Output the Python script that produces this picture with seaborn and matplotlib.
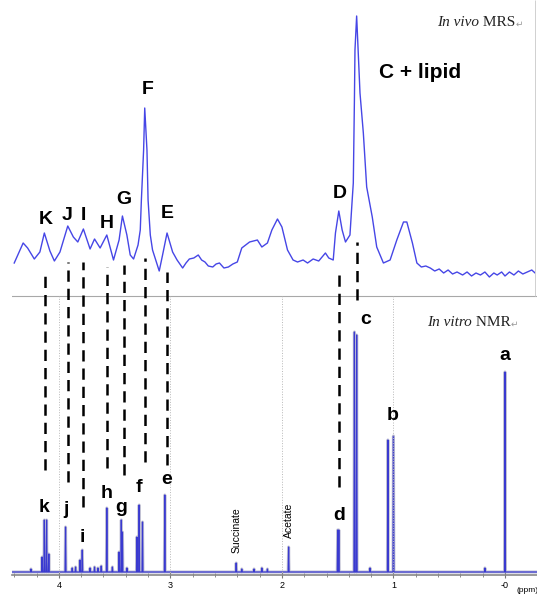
import matplotlib
matplotlib.use('Agg')

import pandas as pd
import seaborn as sns
from matplotlib import pyplot as plt

# in vivo MRS trace (ppm, height above its baseline)
vivo_ppm = [4.40, 4.36, 4.32, 4.28, 4.22, 4.17, 4.13, 4.08, 4.04, 3.99, 3.92, 3.87,
            3.83, 3.78, 3.72, 3.68, 3.63, 3.57, 3.51, 3.46, 3.43, 3.39, 3.36, 3.33,
            3.29, 3.27, 3.26, 3.24, 3.23, 3.21, 3.20, 3.18, 3.16, 3.10, 3.07, 3.03,
            2.98, 2.94, 2.89, 2.86, 2.83, 2.79, 2.75, 2.72, 2.69, 2.66, 2.62, 2.59,
            2.56, 2.52, 2.48, 2.44, 2.40, 2.36, 2.29, 2.22, 2.18, 2.13, 2.09, 2.04,
            2.00, 1.95, 1.90, 1.86, 1.81, 1.77, 1.72, 1.67, 1.61, 1.58, 1.54, 1.52,
            1.49, 1.46, 1.43, 1.39, 1.37, 1.36, 1.35, 1.345, 1.33, 1.30, 1.27, 1.24,
            1.19, 1.15, 1.09, 1.03, 0.97, 0.91, 0.88, 0.83, 0.79, 0.75, 0.71, 0.67,
            0.63, 0.59, 0.55, 0.51, 0.47, 0.43, 0.38, 0.34, 0.30, 0.26, 0.22, 0.18,
            0.14, 0.10, 0.07, 0.03, 0.00, -0.04, -0.08, -0.12, -0.16, -0.20, -0.24, -0.27]
vivo_int = [12, 22, 32, 27, 16, 23, 42, 24, 14, 23, 49, 38,
            33, 46, 26, 36, 27, 40, 15, 35, 59, 40, 20, 16,
            30, 45, 75, 125, 167, 125, 75, 40, 25, 4, 20, 42,
            23, 15, 7, 12, 16, 17, 20, 15, 13, 9, 8, 11,
            12, 7, 8, 11, 13, 27, 33, 35, 28, 32, 45, 56,
            48, 25, 15, 13, 15, 12, 16, 14, 22, 17, 15, 42,
            64, 45, 33, 40, 75, 92, 175, 225, 259, 182, 142, 88,
            58, 28, 12, 15, 35, 53, 53, 32, 12, 8, 9, 7,
            4, 6, 2, 5, 1, 3, 0, 3, -1, 2, 0, 3,
            -2, 2, 0, 3, -1, 3, 0, 4, 1, 3, 5, 2]

# in vitro NMR peaks (ppm, height)
vitro_ppm = [4.25, 4.15, 4.13, 4.11, 4.09, 3.94, 3.88, 3.85, 3.81, 3.79, 3.72, 3.68,
             3.65, 3.62, 3.57, 3.52, 3.46, 3.44, 3.43, 3.39, 3.30, 3.28, 3.25, 3.05,
             2.41, 2.36, 2.25, 2.18, 2.13, 1.94, 1.50, 1.49, 1.35, 1.33, 1.21, 1.05,
             1.00, 0.18, 0.00]
vitro_int = [3, 15, 52, 52, 18, 45, 4, 5, 12, 22, 4, 5,
             4, 6, 64, 5, 20, 52, 40, 4, 35, 67, 50, 77,
             9, 3, 3, 4, 3, 25, 42, 42, 240, 237, 4, 132,
             136, 4, 200]

top_letters = ['K', 'J', 'I', 'H', 'G', 'F', 'E', 'D']
top_letter_ppm = [4.12, 3.93, 3.78, 3.57, 3.42, 3.20, 3.03, 1.48]
top_letter_y = [356, 359, 359, 351, 375, 485, 361, 382]

low_letters = ['k', 'j', 'i', 'h', 'g', 'f', 'e', 'd', 'c', 'b', 'a']
low_letter_ppm = [4.13, 3.94, 3.79, 3.57, 3.44, 3.28, 3.03, 1.49, 1.25, 1.01, 0.0]
low_letter_y = [67, 65, 38, 82, 68, 87, 95, 59, 255, 160, 219]

# dashed links between the two spectra
link_ppm = [4.12, 3.92, 3.78, 3.57, 3.42, 3.23, 3.03, 1.49, 1.33]
link_top = [302, 313, 313, 308, 310, 317, 303, 302, 333]
link_bottom = [105, 93, 68, 107, 100, 113, 110, 88, 275]

tick_ppm = [4, 3, 2, 1, 0]
tick_labels = ['4', '3', '2', '1', '-0']

VIVO_BASE = 300
VITRO_BASE = 3
SEP_Y = 279

fig = plt.figure(figsize=(5.37, 5.98), dpi=100)
ax = fig.add_axes([12 / 537, 23 / 598, 525 / 537, 575 / 598])

# top spectrum
vivo = pd.DataFrame({'ppm': vivo_ppm, 'y': [v + VIVO_BASE for v in vivo_int]})
sns.lineplot(data=vivo, x='ppm', y='y', estimator=None, sort=False,
             color='#4646e6', lw=1.0, ax=ax)

# bottom spectrum as sharp sticks
hw = 0.004
xs, ys = [4.42], [VITRO_BASE]
for p, h in sorted(zip(vitro_ppm, vitro_int), reverse=True):
    xs += [p + hw, p, p - hw]
    ys += [VITRO_BASE, VITRO_BASE + h, VITRO_BASE]
xs.append(-0.29)
ys.append(VITRO_BASE)
vitro = pd.DataFrame({'ppm': xs, 'y': ys})
sns.lineplot(data=vitro, x='ppm', y='y', estimator=None, sort=False,
             color='#9a9ab8', lw=2.2, alpha=0.6, ax=ax)
sns.lineplot(data=vitro, x='ppm', y='y', estimator=None, sort=False,
             color='#3a3ad0', lw=0.9, ax=ax)

# separator and dotted grid in the lower panel
ax.axhline(SEP_Y, color='#a8a8a8', lw=0.8)
ax.vlines(tick_ppm[:-1], 0, SEP_Y, colors='#b8b8b8', linestyles=':', lw=0.7)
ax.vlines([-0.27], SEP_Y, 575, colors='#d0d0d0', lw=0.7)

ax.vlines(link_ppm, link_bottom, link_top, colors='black', lw=1.8,
          linestyles=[(0, (4.5, 2.8))])

for lab, p, y in zip(top_letters, top_letter_ppm, top_letter_y):
    ax.text(p, y, lab, ha='center', va='center', fontsize=14, fontweight='bold',
            family='Liberation Sans')
for lab, p, y in zip(low_letters, low_letter_ppm, low_letter_y):
    ax.text(p, y, lab, ha='center', va='center', fontsize=14, fontweight='bold',
            family='Liberation Sans')
ax.text(0.76, 502, 'C + lipid', ha='center', va='center', fontsize=15,
        fontweight='bold', family='Liberation Sans')

ax.text(2.41, 45, 'Succinate', rotation=90, ha='center', va='center',
        fontsize=7.5, family='Liberation Sans')
ax.text(1.94, 55, 'Acetate', rotation=90, ha='center', va='center',
        fontsize=7.5, family='Liberation Sans')

# panel captions
t1 = ax.text(0.61, 553, 'In vivo', style='italic', fontsize=11,
             family='Liberation Serif', color='#222222', va='center')
t2 = ax.annotate(' MRS', xy=(1, 0), xycoords=t1, va='bottom', fontsize=11,
                 family='Liberation Serif', color='#222222')
ax.annotate('\u21b5', xy=(1, 0), xycoords=t2, va='bottom', fontsize=6.5,
            family='DejaVu Sans', color='#999999')
t3 = ax.text(0.70, 253, 'In vitro', style='italic', fontsize=11,
             family='Liberation Serif', color='#222222', va='center')
t4 = ax.annotate(' NMR', xy=(1, 0), xycoords=t3, va='bottom', fontsize=11,
                 family='Liberation Serif', color='#222222')
ax.annotate('\u21b5', xy=(1, 0), xycoords=t4, va='bottom', fontsize=6.5,
            family='DejaVu Sans', color='#999999')

ax.set_xlim(4.42, -0.287)
ax.set_ylim(0, 575)
ax.set_xlabel('')
ax.set_ylabel('')
ax.set_yticks([])
ax.set_xticks(tick_ppm)
ax.set_xticklabels(tick_labels, fontsize=6.5, family='Liberation Sans')
ax.set_xticks([4.4 - 0.2 * i for i in range(23)], minor=True)
ax.tick_params(axis='x', which='both', direction='inout', color='#777777', pad=2)
ax.tick_params(axis='x', which='major', length=5)
ax.tick_params(axis='x', which='minor', length=3)
for s in ['top', 'left', 'right']:
    ax.spines[s].set_visible(False)
ax.spines['bottom'].set_color('#888888')
ax.spines['bottom'].set_linewidth(1.2)
ax.annotate('(ppm)', xy=(-0.1, 0), xycoords=('data', 'axes fraction'),
            xytext=(0, -9), textcoords='offset points', fontsize=6,
            family='Liberation Sans', va='top', ha='left')

fig.savefig('out.png', dpi=100)
